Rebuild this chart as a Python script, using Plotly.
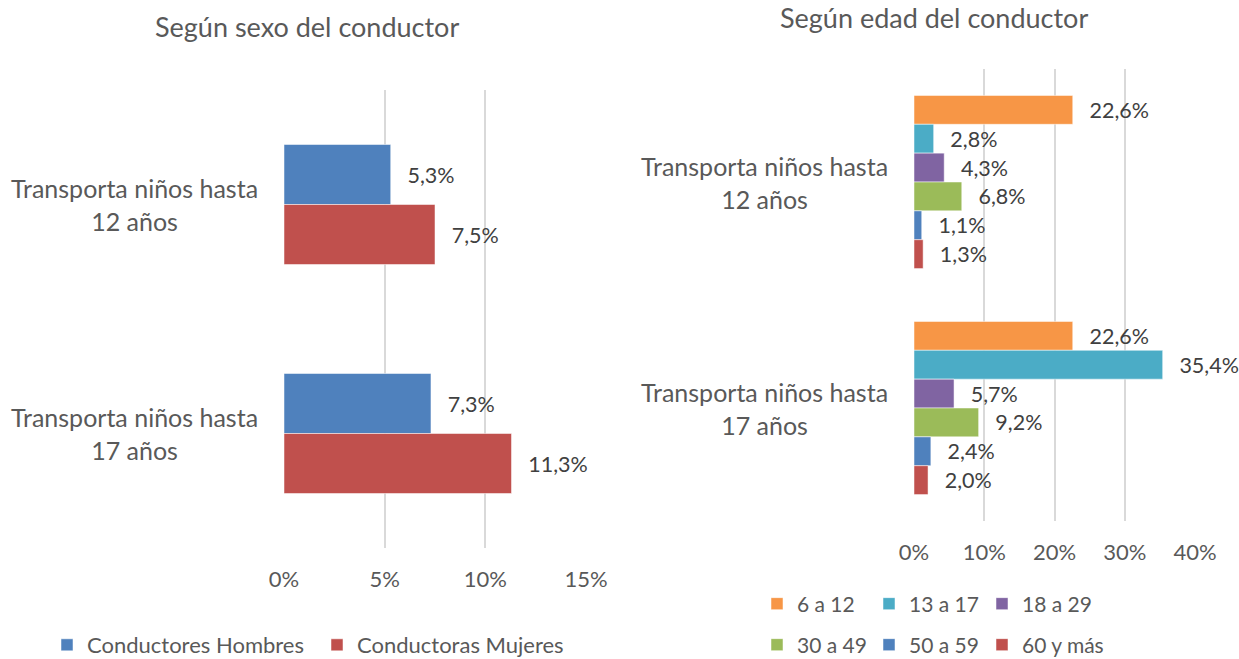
import plotly.graph_objects as go

W, H = 1239, 659

categories = ["Transporta niños hasta<br>12 años", "Transporta niños hasta<br>17 años"]

# Left chart: by sex of driver
sex_series = ["Conductores Hombres", "Conductoras Mujeres"]
hombres = [0.053, 0.073]
mujeres = [0.075, 0.113]
sex_colors = ["#4F81BD", "#C0504D"]

# Right chart: by age of driver
age_series = ["6 a 12", "13 a 17", "18 a 29", "30 a 49", "50 a 59", "60 y más"]
age_6_12 = [0.226, 0.226]
age_13_17 = [0.028, 0.354]
age_18_29 = [0.043, 0.057]
age_30_49 = [0.068, 0.092]
age_50_59 = [0.011, 0.024]
age_60_mas = [0.013, 0.020]
age_colors = ["#F79646", "#4BACC6", "#8064A2", "#9BBB59", "#4F81BD", "#C0504D"]

left_ticks = [0, 0.05, 0.10, 0.15]
right_ticks = [0, 0.10, 0.20, 0.30, 0.40]

FONT = "Lato"
GRAY = "#595959"
LABEL = "#404040"
PAD = "\u00a0\u00a0\u2009"
LBL_SIZE = 21.5

def px_x(p):
    return p / W

def px_y(p):
    return 1 - p / H

fig = go.Figure()

for name, vals, col in zip(sex_series, [hombres, mujeres], sex_colors):
    fig.add_trace(go.Bar(
        x=vals, y=categories, orientation="h", name=name,
        marker=dict(color=col, line=dict(color="white", width=0.5)),
        texttemplate=PAD + "%{x:.1%}", textposition="outside",
        textfont=dict(family=FONT, size=LBL_SIZE, color=LABEL),
        constraintext="none", cliponaxis=False,
        xaxis="x", yaxis="y", legend="legend",
    ))

age_vals = [age_6_12, age_13_17, age_18_29, age_30_49, age_50_59, age_60_mas]
# one legend per age item so the 3x2 grid can be placed like the reference
leg_cols = [757, 869, 982]
leg_rows = [604, 645]
age_legends = {}
for i, (name, vals, col) in enumerate(zip(age_series, age_vals, age_colors)):
    lid = "legend%d" % (i + 2)
    age_legends[lid] = dict(
        orientation="h", x=px_x(leg_cols[i % 3]), y=px_y(leg_rows[i // 3]),
        xanchor="left", yanchor="middle",
        font=dict(family=FONT, size=21, color=GRAY), bgcolor="rgba(0,0,0,0)",
    )
    fig.add_trace(go.Bar(
        x=vals, y=categories, orientation="h", name=name,
        marker=dict(color=col, line=dict(color="white", width=0.5)),
        texttemplate=PAD + "%{x:.1%}", textposition="outside",
        textfont=dict(family=FONT, size=LBL_SIZE, color=LABEL),
        constraintext="none", cliponaxis=False,
        xaxis="x2", yaxis="y2", legend=lid,
    ))

axis_common = dict(
    showgrid=True, gridcolor="#D9D9D9", gridwidth=1.5, zeroline=False,
    showline=False, tickformat=".0%", ticks="", ticklabelstandoff=16,
    tickfont=dict(family=FONT, size=22, color=GRAY), fixedrange=True,
)

fig.update_layout(
    width=W, height=H,
    margin=dict(l=0, r=0, t=0, b=0, autoexpand=False),
    paper_bgcolor="white", plot_bgcolor="white",
    separators=",.",
    barmode="group",
    showlegend=True,
    font=dict(family=FONT, color=GRAY),
    xaxis=dict(domain=[px_x(284), px_x(586)], range=[0, 0.15],
               tickvals=left_ticks, anchor="y", **axis_common),
    yaxis=dict(domain=[px_y(548), px_y(90)], autorange="reversed",
               showticklabels=False, showgrid=False, zeroline=False,
               anchor="x", fixedrange=True),
    xaxis2=dict(domain=[px_x(914), px_x(1195)], range=[0, 0.40],
                tickvals=right_ticks, anchor="y2", **axis_common),
    yaxis2=dict(domain=[px_y(521), px_y(69)], autorange="reversed",
                showticklabels=False, showgrid=False, zeroline=False,
                anchor="x2", fixedrange=True),
    bargap=0.476,
    legend=dict(orientation="h", x=px_x(47), y=px_y(645), xanchor="left",
                yanchor="middle", font=dict(family=FONT, size=22, color=GRAY),
                bgcolor="rgba(0,0,0,0)", entrywidth=225),
    **age_legends,
)

# Right chart uses a smaller gap between categories than the left chart
n_age = len(age_series)
group_w = 0.766
for i, tr in enumerate(fig.data[2:]):
    tr.width = group_w / n_age
    tr.offset = -group_w / 2 + i * group_w / n_age

annotations = [
    dict(text="Según sexo del conductor", x=px_x(307), y=px_y(27), xref="paper", yref="paper",
         showarrow=False, font=dict(family=FONT, size=27, color=GRAY), xanchor="center", yanchor="middle"),
    dict(text="Según edad del conductor", x=px_x(934), y=px_y(18), xref="paper", yref="paper",
         showarrow=False, font=dict(family=FONT, size=27, color=GRAY), xanchor="center", yanchor="middle"),
]
for c in categories:
    annotations.append(dict(text=c, x=px_x(134), y=c, xref="paper", yref="y", showarrow=False,
                            align="center", xanchor="center", yanchor="middle",
                            font=dict(family=FONT, size=25, color=GRAY)))
    annotations.append(dict(text=c, x=px_x(764), y=c, xref="paper", yref="y2", showarrow=False,
                            align="center", xanchor="center", yanchor="middle",
                            font=dict(family=FONT, size=25, color=GRAY)))
fig.update_layout(annotations=annotations)

fig.write_html(
    "out.html",
    config={"displayModeBar": False},
    post_script="document.body.style.margin='0';document.body.style.overflow='hidden';",
)
